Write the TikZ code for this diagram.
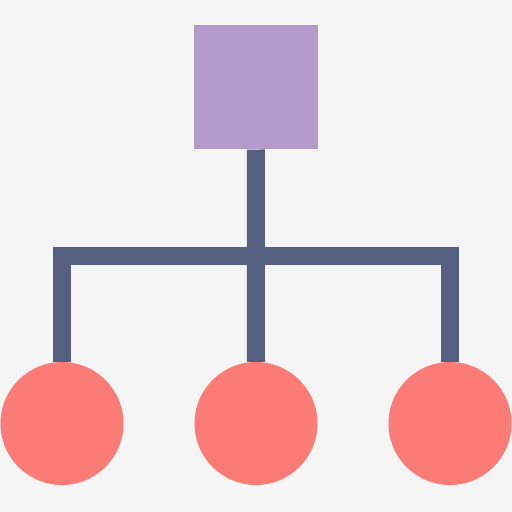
\documentclass[tikz,border=0pt]{standalone}
\definecolor{bgc}{HTML}{F5F5F5}
\definecolor{navy}{HTML}{556080}
\definecolor{coral}{HTML}{FB7B76}
\definecolor{lilac}{HTML}{B49BCB}
\begin{document}
\begin{tikzpicture}[x=1pt,y=-1pt,
  rootbox/.style={rectangle,fill=lilac,draw=none,minimum size=124pt,inner sep=0pt},
  leaf/.style={circle,fill=coral,draw=none,minimum size=123pt,inner sep=0pt},
  link/.style={draw=navy,line width=18pt,line cap=butt,line join=miter}]
\fill[bgc] (0,0) rectangle (512,512);
\useasboundingbox (0,0) rectangle (512,512);
\node[rootbox] (root) at (255.8,87.3) {};
\node[leaf] (l1) at (62,423.5) {};
\node[leaf] (l2) at (256,423.5) {};
\node[leaf] (l3) at (450,423.5) {};
\coordinate (ja) at (62,256);
\coordinate (jb) at (450,256);
\draw[link] (root.south) -- (l2.north);
\draw[link] (l1.north) -- (ja) -- (jb) -- (l3.north);
\end{tikzpicture}
\end{document}
